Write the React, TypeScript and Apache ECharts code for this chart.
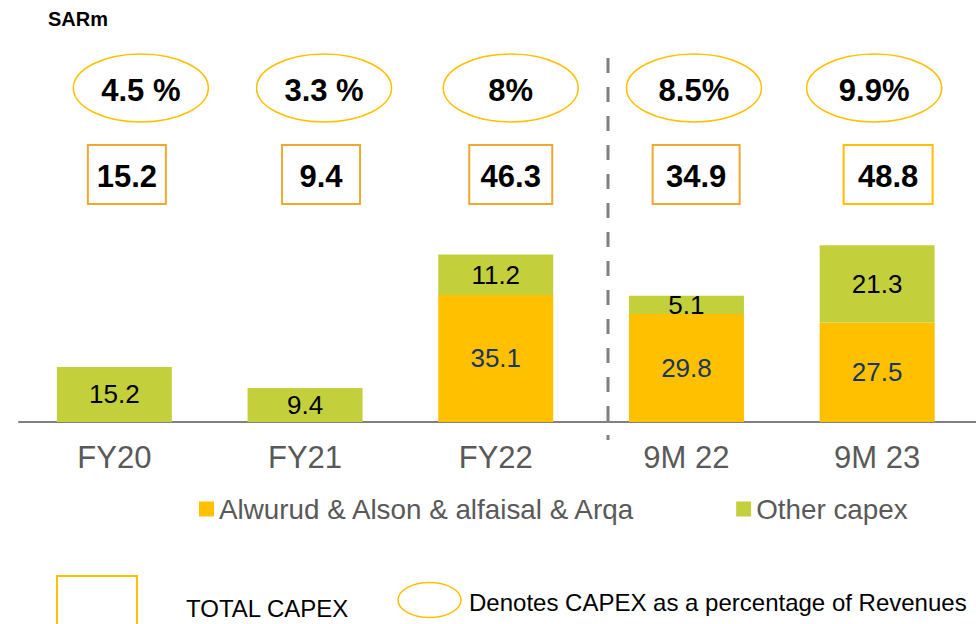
import React, { useEffect, useRef } from "react";
import * as echarts from "echarts";

const categories = ["FY20", "FY21", "FY22", "9M 22", "9M 23"];
const alwurudCapex: (number | null)[] = [null, null, 35.1, 29.8, 27.5];
const otherCapex = [15.2, 9.4, 11.2, 5.1, 21.3];
const totalCapex = [15.2, 9.4, 46.3, 34.9, 48.8];
const pctOfRevenue = [4.5, 3.3, 8, 8.5, 9.9];
const pctLabels = ["4.5 %", "3.3 %", "8%", "8.5%", "9.9%"];

// layout-only (pixel offsets from category centre, sizes)
const ellipseOffsets = [26.5, 19, 15, 7.5, -3];
const boxOffsets = [12.5, 16, 15, 9.7, 11];
const boxWidths = [78, 78, 83, 87, 89];
const boxColors = ["#F0A830", "#F0A830", "#F0A830", "#F0A830", "#FFC000"];

const FONT = "'Liberation Sans', Arial, Helvetica, sans-serif";
const ORANGE = "#FFC000";
const GREEN = "#C3D03C";

export default function App() {
  const ref = useRef<HTMLDivElement | null>(null);

  useEffect(() => {
    document.body.style.margin = "0";
    if (!ref.current) return;
    const chart = echarts.init(ref.current, undefined, { renderer: "svg" });

    const option: any = {
      animation: false,
      backgroundColor: "#ffffff",
      grid: { left: 19, right: 3.5, top: 60, bottom: 202, containLabel: false },
      legend: {
        data: ["Alwurud & Alson & alfaisal & Arqa", "Other capex"],
        left: 194,
        top: 490,
        icon: "rect",
        itemWidth: 15,
        itemHeight: 15,
        itemGap: 100,
        textStyle: { color: "#595959", fontSize: 27.8, fontFamily: FONT },
      },
      xAxis: {
        type: "category",
        data: categories,
        axisLine: { show: true, lineStyle: { color: "#808080", width: 2 } },
        axisTick: { show: false },
        axisLabel: { color: "#595959", fontSize: 31, fontFamily: FONT, margin: 20 },
      },
      yAxis: {
        type: "value",
        min: 0,
        max: 100,
        show: false,
        splitLine: { show: false },
      },
      series: [
        {
          name: "Alwurud & Alson & alfaisal & Arqa",
          type: "bar",
          stack: "capex",
          barWidth: 115,
          data: alwurudCapex,
          itemStyle: { color: ORANGE },
          label: {
            show: true,
            position: "inside",
            color: "#17365D",
            fontSize: 26,
            fontFamily: FONT,
          },
        },
        {
          name: "Other capex",
          type: "bar",
          stack: "capex",
          barWidth: 115,
          data: otherCapex,
          itemStyle: { color: GREEN },
          label: {
            show: true,
            position: "inside",
            color: "#000000",
            fontSize: 26,
            fontFamily: FONT,
          },
        },
        {
          name: "pct",
          type: "custom",
          clip: false,
          silent: true,
          data: pctOfRevenue.map((v, i) => [i, v]),
          renderItem: (params: any, api: any) => {
            const i = api.value(0);
            const cx = api.coord([i, 0])[0] + ellipseOffsets[i];
            return {
              type: "group",
              children: [
                {
                  type: "ellipse",
                  shape: { cx, cy: 88, rx: 67.5, ry: 34 },
                  style: { fill: "none", stroke: ORANGE, lineWidth: 1.5 },
                },
                {
                  type: "text",
                  style: {
                    text: pctLabels[i],
                    x: cx,
                    y: 90,
                    align: "center",
                    verticalAlign: "middle",
                    fontSize: 31,
                    fontWeight: "bold",
                    fontFamily: FONT,
                    fill: "#000000",
                  },
                },
              ],
            };
          },
        },
        {
          name: "total",
          type: "custom",
          clip: false,
          silent: true,
          data: totalCapex.map((v, i) => [i, v]),
          renderItem: (params: any, api: any) => {
            const i = api.value(0);
            const v = api.value(1);
            const cx = api.coord([i, 0])[0] + boxOffsets[i];
            const w = boxWidths[i];
            return {
              type: "group",
              children: [
                {
                  type: "rect",
                  shape: { x: cx - w / 2, y: 145, width: w, height: 59 },
                  style: { fill: "none", stroke: boxColors[i], lineWidth: 2 },
                },
                {
                  type: "text",
                  style: {
                    text: v.toFixed(1),
                    x: cx,
                    y: 176,
                    align: "center",
                    verticalAlign: "middle",
                    fontSize: 31,
                    fontWeight: "bold",
                    fontFamily: FONT,
                    fill: "#000000",
                  },
                },
              ],
            };
          },
        },
      ],
      graphic: [
        {
          type: "text",
          left: 48,
          top: 9,
          style: {
            text: "SARm",
            fontSize: 20,
            fontWeight: "bold",
            fontFamily: FONT,
            fill: "#000000",
          },
        },
        {
          type: "line",
          shape: { x1: 608, y1: 58, x2: 608, y2: 440 },
          style: { stroke: "#808080", lineWidth: 3, lineDash: [15, 14] },
        },
        {
          type: "line",
          shape: { x1: 970, y1: 422, x2: 976, y2: 422 },
          style: { stroke: "#808080", lineWidth: 2 },
        },
        {
          type: "rect",
          shape: { x: 57, y: 576, width: 80, height: 70 },
          style: { fill: "none", stroke: ORANGE, lineWidth: 2 },
        },
        {
          type: "text",
          x: 186,
          y: 608,
          style: {
            text: "TOTAL CAPEX",
            fontSize: 24,
            fontFamily: FONT,
            fill: "#000000",
            verticalAlign: "middle",
          },
        },
        {
          type: "ellipse",
          shape: { cx: 429.5, cy: 600, rx: 31.5, ry: 17.5 },
          style: { fill: "none", stroke: ORANGE, lineWidth: 1.5 },
        },
        {
          type: "text",
          x: 469,
          y: 602,
          style: {
            text: "Denotes CAPEX as a percentage of Revenues",
            fontSize: 24,
            fontFamily: FONT,
            fill: "#000000",
            verticalAlign: "middle",
          },
        },
      ],
    };

    chart.setOption(option);
    return () => chart.dispose();
  }, []);

  return (
    <div
      ref={ref}
      style={{ position: "absolute", left: 0, top: 0, width: 976, height: 624 }}
    />
  );
}
